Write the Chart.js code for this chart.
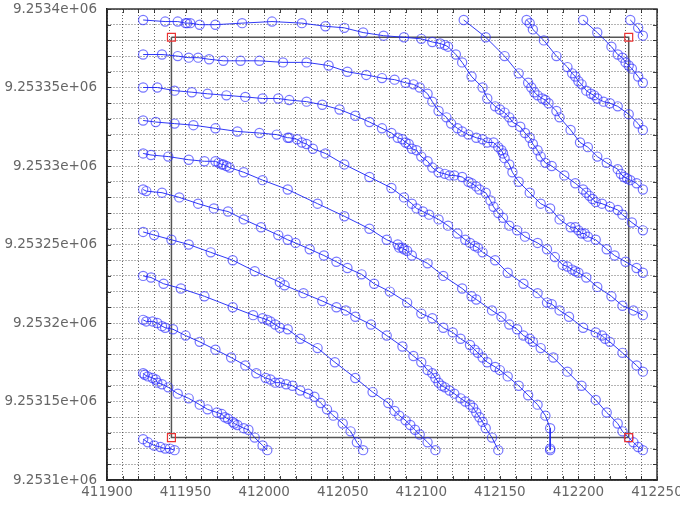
<!DOCTYPE html>
<html>
<head>
<meta charset="utf-8">
<script src="https://cdn.jsdelivr.net/npm/chart.js@4.4.1/dist/chart.umd.min.js"></script>
<style>
  html, body { margin: 0; padding: 0; background: #fff; }
</style>
</head>
<body>
<canvas id="grafico" width="680" height="506"></canvas>
<script>
// === DATOS: ejes ===
const xMin = 411900, xMax = 412250;
const yMin = 9253100, yMax = 9253400;
const pasoGrilla = 10;   // grilla fina
const pasoEtiqueta = 50; // etiquetas

// === DATOS: rectangulo y esquinas ===
const xMarco = [411941, 412232, 412232, 411941, 411941];
const yMarco = [9253382, 9253382, 9253127, 9253127, 9253382];
const xEsquinas = [411941, 412232, 411941, 412232];
const yEsquinas = [9253382, 9253382, 9253127, 9253127];

// === DATOS: curvas que entran por arriba ===
const xA4 = [412233, 412238, 412241];
const yA4 = [9253393, 9253388, 9253383];

const xA3 = [412203, 412212, 412221, 412225, 412228, 412230, 412232, 412234, 412238, 412241];
const yA3 = [9253393, 9253385, 9253376, 9253371, 9253369, 9253366, 9253364, 9253362, 9253357, 9253353];

const xA2 = [412167, 412169, 412171, 412178, 412186, 412193, 412196, 412198, 412200, 412202, 412205, 412208, 412210, 412212, 412216, 412220, 412225, 412232, 412238, 412241];
const yA2 = [9253393, 9253391, 9253387, 9253380, 9253370, 9253363, 9253359, 9253357, 9253354, 9253352, 9253348, 9253346, 9253345, 9253343, 9253341, 9253340, 9253338, 9253333, 9253327, 9253323];

const xA1 = [412127, 412141, 412153, 412162, 412168, 412170, 412172, 412174, 412177, 412179, 412181, 412186, 412188, 412195, 412201, 412206, 412212, 412218, 412225, 412227, 412229, 412231, 412233, 412237, 412241];
const yA1 = [9253393, 9253382, 9253370, 9253359, 9253353, 9253350, 9253347, 9253345, 9253343, 9253342, 9253340, 9253335, 9253331, 9253323, 9253315, 9253312, 9253306, 9253302, 9253298, 9253295, 9253293, 9253292, 9253291, 9253289, 9253285];

// === DATOS: curvas que entran por la izquierda ===
const xI01 = [411923, 411937, 411945, 411950, 411951, 411953, 411959, 411969, 411986, 412005, 412024, 412039, 412051, 412063, 412076, 412089, 412100, 412107, 412112, 412115, 412117, 412122, 412126, 412132, 412139, 412142, 412147, 412150, 412153, 412156, 412158, 412163, 412166, 412169, 412171, 412174, 412176, 412179, 412183, 412191, 412198, 412203, 412205, 412207, 412209, 412211, 412215, 412220, 412225, 412228, 412234, 412241];
const yI01 = [9253393, 9253392, 9253392, 9253391, 9253391, 9253391, 9253390, 9253390, 9253391, 9253392, 9253391, 9253389, 9253388, 9253385, 9253383, 9253382, 9253381, 9253379, 9253378, 9253377, 9253376, 9253371, 9253366, 9253357, 9253350, 9253343, 9253338, 9253336, 9253334, 9253331, 9253328, 9253325, 9253321, 9253318, 9253314, 9253310, 9253306, 9253302, 9253300, 9253294, 9253289, 9253285, 9253283, 9253281, 9253279, 9253277, 9253276, 9253274, 9253272, 9253269, 9253264, 9253259];

const xI02 = [411923, 411935, 411945, 411952, 411958, 411965, 411974, 411985, 411997, 412012, 412027, 412041, 412053, 412065, 412075, 412083, 412090, 412095, 412099, 412104, 412107, 412111, 412116, 412119, 412123, 412126, 412130, 412135, 412139, 412142, 412146, 412149, 412151, 412152, 412153, 412156, 412158, 412162, 412169, 412176, 412182, 412188, 412195, 412198, 412200, 412202, 412204, 412206, 412211, 412218, 412223, 412230, 412237, 412241];
const yI02 = [9253371, 9253371, 9253370, 9253369, 9253369, 9253368, 9253367, 9253367, 9253367, 9253366, 9253366, 9253364, 9253360, 9253358, 9253356, 9253355, 9253353, 9253352, 9253350, 9253346, 9253341, 9253335, 9253331, 9253327, 9253324, 9253322, 9253320, 9253318, 9253317, 9253315, 9253315, 9253312, 9253310, 9253308, 9253305, 9253301, 9253296, 9253290, 9253283, 9253276, 9253273, 9253266, 9253261, 9253261, 9253259, 9253257, 9253257, 9253255, 9253253, 9253247, 9253243, 9253239, 9253235, 9253232];

const xI03 = [411923, 411932, 411943, 411954, 411964, 411976, 411988, 411999, 412009, 412016, 412027, 412037, 412048, 412058, 412067, 412075, 412081, 412085, 412088, 412090, 412092, 412094, 412097, 412100, 412104, 412107, 412111, 412115, 412118, 412121, 412126, 412130, 412132, 412135, 412137, 412141, 412144, 412146, 412149, 412152, 412156, 412161, 412166, 412174, 412180, 412185, 412190, 412193, 412196, 412198, 412200, 412205, 412212, 412221, 412228, 412235, 412241];
const yI03 = [9253350, 9253350, 9253348, 9253347, 9253346, 9253345, 9253344, 9253343, 9253343, 9253342, 9253341, 9253339, 9253336, 9253332, 9253328, 9253324, 9253321, 9253318, 9253317, 9253315, 9253314, 9253311, 9253310, 9253306, 9253303, 9253299, 9253296, 9253295, 9253294, 9253294, 9253293, 9253290, 9253289, 9253287, 9253285, 9253283, 9253278, 9253274, 9253270, 9253267, 9253262, 9253259, 9253255, 9253251, 9253247, 9253242, 9253237, 9253236, 9253234, 9253233, 9253232, 9253229, 9253223, 9253217, 9253211, 9253208, 9253205];

const xI04 = [411923, 411931, 411943, 411955, 411969, 411983, 411997, 412008, 412015, 412016, 412021, 412024, 412027, 412031, 412039, 412051, 412067, 412081, 412089, 412094, 412097, 412101, 412105, 412111, 412117, 412123, 412128, 412131, 412134, 412136, 412139, 412147, 412155, 412165, 412174, 412180, 412183, 412188, 412194, 412203, 412211, 412215, 412217, 412220, 412228, 412237, 412241];
const yI04 = [9253329, 9253328, 9253327, 9253326, 9253324, 9253322, 9253321, 9253320, 9253318, 9253318, 9253317, 9253315, 9253314, 9253311, 9253308, 9253301, 9253293, 9253286, 9253280, 9253276, 9253273, 9253271, 9253269, 9253266, 9253262, 9253257, 9253253, 9253251, 9253249, 9253248, 9253245, 9253240, 9253232, 9253225, 9253219, 9253213, 9253212, 9253208, 9253204, 9253197, 9253194, 9253192, 9253190, 9253188, 9253181, 9253173, 9253169];

const xI05 = [411923, 411928, 411939, 411952, 411962, 411969, 411971, 411973, 411974, 411976, 411978, 411987, 411999, 412015, 412034, 412051, 412067, 412078, 412085, 412086, 412088, 412089, 412091, 412094, 412104, 412114, 412126, 412132, 412135, 412145, 412151, 412156, 412161, 412165, 412169, 412171, 412176, 412184, 412193, 412202, 412211, 412218, 412225, 412228, 412232, 412235, 412238, 412241];
const yI05 = [9253308, 9253307, 9253306, 9253304, 9253303, 9253303, 9253302, 9253301, 9253301, 9253300, 9253299, 9253296, 9253291, 9253285, 9253276, 9253268, 9253260, 9253253, 9253250, 9253248, 9253248, 9253247, 9253246, 9253243, 9253238, 9253230, 9253222, 9253217, 9253215, 9253208, 9253204, 9253199, 9253196, 9253192, 9253190, 9253188, 9253184, 9253178, 9253169, 9253160, 9253151, 9253143, 9253136, 9253131, 9253127, 9253124, 9253121, 9253119];

const xI06 = [411923, 411925, 411935, 411946, 411958, 411968, 411977, 411987, 411998, 412009, 412015, 412020, 412029, 412038, 412046, 412053, 412062, 412070, 412080, 412091, 412100, 412107, 412114, 412120, 412125, 412131, 412134, 412136, 412139, 412142, 412147, 412150, 412155, 412162, 412168, 412174, 412179, 412182, 412182, 412182];
const yI06 = [9253285, 9253284, 9253283, 9253280, 9253276, 9253273, 9253271, 9253266, 9253261, 9253256, 9253253, 9253251, 9253247, 9253243, 9253239, 9253235, 9253231, 9253225, 9253220, 9253213, 9253206, 9253203, 9253197, 9253194, 9253190, 9253186, 9253183, 9253181, 9253178, 9253175, 9253172, 9253170, 9253166, 9253160, 9253154, 9253148, 9253141, 9253133, 9253120, 9253119];

const xI07 = [411923, 411930, 411941, 411952, 411966, 411980, 411994, 412010, 412013, 412025, 412037, 412046, 412052, 412058, 412068, 412078, 412088, 412095, 412100, 412104, 412107, 412109, 412111, 412113, 412115, 412118, 412121, 412125, 412128, 412131, 412133, 412135, 412137, 412139, 412141, 412145, 412149];
const yI07 = [9253258, 9253256, 9253253, 9253250, 9253245, 9253240, 9253233, 9253226, 9253224, 9253219, 9253214, 9253210, 9253208, 9253204, 9253199, 9253192, 9253185, 9253179, 9253175, 9253170, 9253168, 9253165, 9253162, 9253160, 9253159, 9253157, 9253155, 9253152, 9253150, 9253148, 9253146, 9253143, 9253140, 9253137, 9253133, 9253127, 9253119];

const xI08 = [411923, 411928, 411936, 411947, 411962, 411980, 411993, 411999, 412002, 412004, 412007, 412010, 412015, 412023, 412034, 412045, 412058, 412069, 412079, 412083, 412086, 412090, 412093, 412096, 412099, 412104, 412109];
const yI08 = [9253230, 9253229, 9253225, 9253222, 9253217, 9253210, 9253205, 9253203, 9253202, 9253201, 9253199, 9253197, 9253196, 9253190, 9253184, 9253175, 9253165, 9253156, 9253149, 9253144, 9253141, 9253138, 9253135, 9253132, 9253129, 9253124, 9253119];

const xI09 = [411923, 411925, 411929, 411932, 411935, 411937, 411942, 411950, 411959, 411969, 411979, 411988, 411995, 412001, 412004, 412007, 412010, 412014, 412018, 412023, 412028, 412032, 412036, 412040, 412044, 412050, 412055, 412059, 412063];
const yI09 = [9253202, 9253201, 9253201, 9253200, 9253198, 9253197, 9253196, 9253192, 9253188, 9253183, 9253178, 9253173, 9253168, 9253165, 9253164, 9253162, 9253162, 9253161, 9253160, 9253157, 9253155, 9253153, 9253149, 9253145, 9253141, 9253136, 9253131, 9253124, 9253119];

const xI10 = [411923, 411924, 411926, 411929, 411931, 411932, 411935, 411939, 411945, 411952, 411959, 411964, 411970, 411973, 411975, 411977, 411980, 411981, 411983, 411987, 411990, 411994, 411999, 412002];
const yI10 = [9253168, 9253167, 9253166, 9253165, 9253164, 9253162, 9253161, 9253159, 9253155, 9253152, 9253148, 9253145, 9253143, 9253142, 9253140, 9253139, 9253137, 9253136, 9253135, 9253133, 9253132, 9253127, 9253122, 9253119];

const xI11 = [411923, 411926, 411930, 411934, 411937, 411940, 411943];
const yI11 = [9253126, 9253124, 9253122, 9253121, 9253120, 9253120, 9253119];

const curvas = [
    [xA4, yA4], [xA3, yA3], [xA2, yA2], [xA1, yA1],
    [xI01, yI01], [xI02, yI02], [xI03, yI03], [xI04, yI04], [xI05, yI05], [xI06, yI06],
    [xI07, yI07], [xI08, yI08], [xI09, yI09], [xI10, yI10], [xI11, yI11]
];

// === ARMADO DE DATASETS ===
function unirPuntos(xs, ys) {
    return xs.map((x, i) => ({ x: x, y: ys[i] }));
}

const datasetsCurvas = curvas.map(([xs, ys]) => ({
    data: unirPuntos(xs, ys),
    showLine: true,
    borderColor: 'rgba(25, 35, 245, 0.9)',
    borderWidth: 1,
    pointStyle: 'circle',
    pointRadius: 4.6,
    pointBorderWidth: 1.2,
    pointBorderColor: 'rgba(45, 45, 255, 0.65)',
    pointBackgroundColor: 'rgba(0, 0, 0, 0)',
    tension: 0
}));

// marquitas hacia adentro y borde del area
const marcoEjes = {
    id: 'marcoEjes',
    beforeDatasetsDraw(chart) {
        const { ctx, chartArea: a, scales } = chart;
        ctx.save();
        ctx.strokeStyle = 'rgba(0, 0, 0, 0.75)';
        ctx.lineWidth = 1;
        for (let v = xMin; v <= xMax; v += pasoGrilla) {
            const px = Math.round(scales.x.getPixelForValue(v)) + 0.5;
            ctx.beginPath();
            ctx.moveTo(px, a.bottom); ctx.lineTo(px, a.bottom - 4);
            ctx.moveTo(px, a.top); ctx.lineTo(px, a.top + 4);
            ctx.stroke();
        }
        for (let v = yMin; v <= yMax; v += pasoGrilla) {
            const py = Math.round(scales.y.getPixelForValue(v)) + 0.5;
            ctx.beginPath();
            ctx.moveTo(a.left, py); ctx.lineTo(a.left + 4, py);
            ctx.moveTo(a.right, py); ctx.lineTo(a.right - 4, py);
            ctx.stroke();
        }
        ctx.strokeStyle = '#333';
        ctx.lineWidth = 1.5;
        ctx.strokeRect(a.left, a.top, a.right - a.left, a.bottom - a.top);
        ctx.restore();
    }
};

const fuenteEjes = { family: 'DejaVu Sans', size: 13.5 };

new Chart(document.getElementById('grafico'), {
    type: 'scatter',
    data: {
        datasets: [
            {
                data: unirPuntos(xEsquinas, yEsquinas),
                showLine: false,
                pointStyle: 'rect',
                pointRadius: 5.6,
                pointBorderWidth: 1.2,
                pointBorderColor: 'rgb(235, 50, 50)',
                pointBackgroundColor: 'rgba(0, 0, 0, 0)'
            },
            ...datasetsCurvas,
            {
                data: unirPuntos(xMarco, yMarco),
                showLine: true,
                borderColor: '#555',
                borderWidth: 1.5,
                pointRadius: 0,
                tension: 0
            }
        ]
    },
    options: {
        responsive: false,
        animation: false,
        layout: { padding: { top: 9, right: 23, left: 0, bottom: 0 } },
        plugins: { legend: { display: false }, tooltip: { enabled: false } },
        scales: {
            x: {
                type: 'linear',
                min: xMin,
                max: xMax,
                afterFit: (s) => { s.height = 26; s.paddingLeft = 0; s.paddingRight = 0; },
                ticks: {
                    stepSize: pasoGrilla,
                    autoSkip: false,
                    maxRotation: 0,
                    color: '#666',
                    font: fuenteEjes,
                    padding: 4,
                    callback: (v) => (Math.round(v) % pasoEtiqueta === 0 ? String(Math.round(v)) : '')
                },
                grid: { color: 'rgba(40, 40, 40, 0.7)', lineWidth: 1, drawTicks: false },
                border: { display: true, color: '#000', width: 1.5, dash: [1, 2] }
            },
            y: {
                type: 'linear',
                min: yMin,
                max: yMax,
                afterFit: (s) => { s.width = 107; s.paddingTop = 0; s.paddingBottom = 0; },
                ticks: {
                    stepSize: pasoGrilla,
                    autoSkip: false,
                    color: '#666',
                    font: fuenteEjes,
                    padding: 10,
                    callback: (v) => {
                        const n = Math.round(v);
                        return n % pasoEtiqueta === 0 ? n.toExponential().replace('e+6', 'e+06') : '';
                    }
                },
                grid: { color: 'rgba(40, 40, 40, 0.7)', lineWidth: 1, drawTicks: false },
                border: { display: true, color: '#000', width: 1.5, dash: [1, 2] }
            }
        }
    },
    plugins: [marcoEjes]
});
</script>
</body>
</html>
